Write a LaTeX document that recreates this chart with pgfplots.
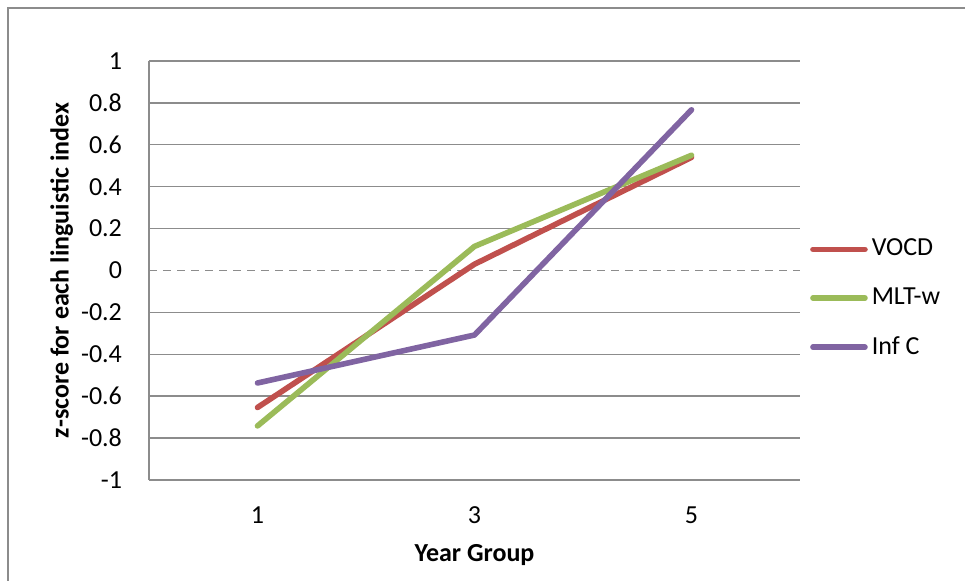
\documentclass[border=0pt]{standalone}
\usepackage{fontspec}
\setmainfont{Carlito}
\usepackage{pgfplots}
\pgfplotsset{compat=1.18}
\definecolor{cRed}{HTML}{C0504D}
\definecolor{cGreen}{HTML}{9BBB59}
\definecolor{cPurple}{HTML}{8064A2}
\definecolor{cGrid}{HTML}{8C8C8C}
\begin{document}
\fontsize{13}{15}\selectfont
\begin{tikzpicture}[x=0.5pt,y=0.5pt]
\path[use as bounding box] (0,0) rectangle (965,581);
\draw[cGrid, line width=0.6pt] (8,-10) -- (8,573) -- (975,573);
\begin{axis}[
  at={(74.5pt,50.5pt)}, anchor=south west,
  scale only axis, width=325.5pt, height=209.5pt,
  xmin=0, xmax=6, ymin=-1, ymax=1,
  axis lines*=left,
  axis line style={cGrid, line width=0.7pt},
  xtick={1,3,5}, major tick length=0pt,
  ytick={-1,-0.8,-0.6,-0.4,-0.2,0.2,0.4,0.6,0.8,1},
  extra y ticks={0},
  extra y tick style={grid style={cGrid, line width=0.6pt, dash pattern=on 4pt off 3pt}},
  ymajorgrids,
  grid style={cGrid, line width=0.7pt},
  /pgf/number format/assume math mode=true,
  ticklabel style={font=\fontsize{13}{15}\selectfont},
  yticklabel style={xshift=-9pt},
  xticklabel style={yshift=-9pt},
  xlabel={\textbf{Year Group}},
  ylabel={\textbf{z-score for each linguistic index}},
  label style={font=\fontsize{13}{15}\selectfont},
  xlabel style={at={(axis description cs:0.5,-0.18)}, anchor=center},
  ylabel style={at={(axis description cs:-0.134,0.5)}, anchor=center},
  legend style={draw=none, fill=none, at={(1.015,0.433)}, anchor=west,
    font=\fontsize{13}{15}\selectfont, row sep=10pt, inner sep=0pt},
  legend cell align=left,
  legend image code/.code={\draw[#1, line width=2.8pt, line cap=round] (0pt,0pt) -- (26pt,0pt);},
  every axis plot/.append style={line width=2.8pt, line cap=round, line join=round},
  clip=false,
]
\addplot[cRed] coordinates {(1,-0.654) (3,0.03) (5,0.54)};
\addlegendentry{VOCD}
\addplot[cGreen] coordinates {(1,-0.742) (3,0.115) (5,0.55)};
\addlegendentry{MLT-w}
\addplot[cPurple] coordinates {(1,-0.537) (3,-0.308) (5,0.767)};
\addlegendentry{Inf C}
\end{axis}
\end{tikzpicture}
\end{document}
